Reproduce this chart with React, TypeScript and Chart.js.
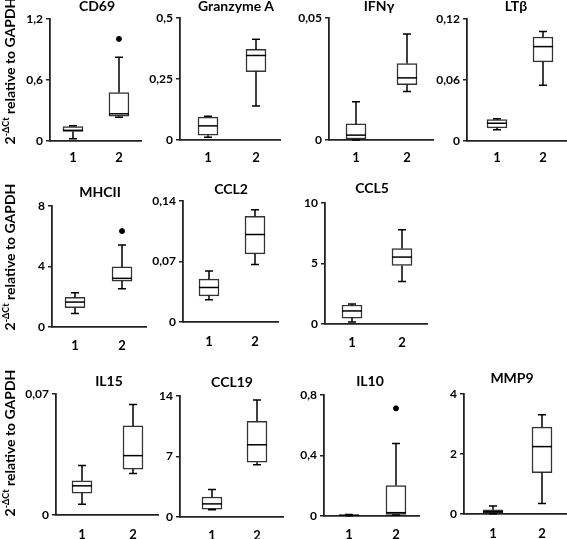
import React, { useEffect, useRef } from "react";
import { Chart, registerables } from "chart.js";
Chart.register(...registerables);

// ---------- data ----------
const panelTitles = ["CD69", "Granzyme A", "IFNγ", "LTβ", "MHCII", "CCL2", "CCL5", "IL15", "CCL19", "IL10", "MMP9"];
const groupLabels = ["1", "2"];

const yTickValues = [
  [0, 0.6, 1.2], [0, 0.25, 0.5], [0, 0.05], [0, 0.06, 0.12],
  [0, 4, 8], [0, 0.07, 0.14], [0, 5, 10],
  [0, 0.07], [0, 7, 14], [0, 0.4, 0.8], [0, 2, 4],
];
const yTickLabels = [
  ["0", "0,6", "1,2"], ["0", "0,25", "0,5"], ["0", "0,05"], ["0", "0,06", "0,12"],
  ["0", "4", "8"], ["0", "0,07", "0,14"], ["0", "5", "10"],
  ["0", "0,07"], ["0", "7", "14"], ["0", "0,4", "0,8"], ["0", "2", "4"],
];

// [low whisker, q1, median, q3, high whisker] for group 1 and group 2
const statsCD69 = [[0.023, 0.094, 0.105, 0.143, 0.15], [0.235, 0.245, 0.268, 0.477, 0.825]];
const statsGranzymeA = [[0.011, 0.02, 0.058, 0.094, 0.097], [0.14, 0.281, 0.347, 0.372, 0.414]];
const statsIFNg = [[0, 0.0004, 0.002, 0.0066, 0.0157], [0.0199, 0.0227, 0.0255, 0.0314, 0.0435]];
const statsLTb = [[0.011, 0.013, 0.0175, 0.021, 0.022], [0.055, 0.078, 0.093, 0.1025, 0.108]];
const statsMHCII = [[0.89, 1.28, 1.65, 1.96, 2.26], [2.54, 3.04, 3.22, 3.98, 5.43]];
const statsCCL2 = [[0.0257, 0.0303, 0.04, 0.0496, 0.059], [0.0666, 0.079, 0.1014, 0.1226, 0.13]];
const statsCCL5 = [[0.16, 0.49, 1.08, 1.57, 1.65], [3.51, 4.84, 5.54, 6.24, 7.81]];
const statsIL15 = [[0.0063, 0.0127, 0.0169, 0.0198, 0.0287], [0.024, 0.0266, 0.0344, 0.0516, 0.0641]];
const statsCCL19 = [[0.84, 0.91, 1.52, 2.32, 3.19], [6.05, 6.35, 8.37, 11.1, 13.57]];
const statsIL10 = [[0.001, 0.003, 0.005, 0.008, 0.01], [0.007, 0.011, 0.022, 0.202, 0.48]];
const statsMMP9 = [[0.01, 0.044, 0.076, 0.142, 0.27], [0.35, 1.38, 2.25, 2.9, 3.31]];

const panelStats = [statsCD69, statsGranzymeA, statsIFNg, statsLTb, statsMHCII, statsCCL2, statsCCL5, statsIL15, statsCCL19, statsIL10, statsMMP9];

// outliers per group
const outliersCD69 = [[], [1.006]];
const outliersMHCII = [[], [6.35]];
const outliersIL10 = [[], [0.713]];
const panelOutliers = [outliersCD69, [[], []], [[], []], [[], []], outliersMHCII, [[], []], [[], []], [[], []], [[], []], outliersIL10, [[], []]];

// ---------- layout (page pixels) ----------
// axisX, yTop, yZero, xEnd, c1, c2, labelY, titleX, titleY
const layouts = [
  [50, 17, 141, 145, 74, 122, 158, 97, 6],
  [180, 16, 140, 280, 208, 256, 158, 236, 6],
  [329, 16, 140, 433, 356, 407, 158, 379, 6],
  [467, 17, 141, 567, 497, 543, 158, 516, 6],
  [52, 204, 327, 150, 76, 125, 346, 100, 192],
  [183, 199, 322, 278, 209, 255, 342, 231, 189],
  [325, 201, 324, 427, 352, 402, 343, 372, 188],
  [56, 392, 515, 158, 82, 133, 535, 109, 381],
  [180, 394, 517, 283, 212, 257, 536, 232, 382],
  [324, 393, 516, 423, 350, 399, 535, 370, 381],
  [464, 392, 514, 567, 493, 542, 534, 512, 378],
];
const yTitleCenters = [71, 257, 443];

const FONT = "Lato, 'Open Sans', sans-serif";
const LEFT_SPACE = 40;
const TOP_SPACE = 8;

function makeBoxPlugin(stats: number[][], labelOffsetY: number) {
  return {
    id: "boxExtras",
    afterDatasetsDraw(chart: any) {
      const { ctx, scales } = chart;
      const x = scales.x, y = scales.y;
      ctx.save();
      ctx.strokeStyle = "#000";
      ctx.lineWidth = 1.5;
      stats.forEach((s, i) => {
        const cx = Math.round(x.getPixelForValue(i + 1));
        const [lo, q1, med, q3, hi] = s.map((v) => y.getPixelForValue(v));
        ctx.beginPath();
        ctx.moveTo(cx, q3); ctx.lineTo(cx, hi);
        ctx.moveTo(cx - 4, hi); ctx.lineTo(cx + 4, hi);
        ctx.moveTo(cx, q1); ctx.lineTo(cx, lo);
        ctx.moveTo(cx - 4, lo); ctx.lineTo(cx + 4, lo);
        ctx.stroke();
        ctx.beginPath();
        ctx.moveTo(cx - 10, med); ctx.lineTo(cx + 10, med);
        ctx.stroke();
      });
      // group labels under the x axis
      ctx.fillStyle = "#000";
      ctx.font = `bold 13px ${FONT}`;
      ctx.textAlign = "center";
      ctx.textBaseline = "middle";
      groupLabels.forEach((lab, i) => {
        ctx.fillText(lab, x.getPixelForValue(i + 1), y.getPixelForValue(0) + labelOffsetY);
      });
      ctx.restore();
    },
  };
}

function Panel({ idx }: { idx: number }) {
  const ref = useRef<HTMLCanvasElement | null>(null);
  const [axisX, yTop, yZero, xEnd, c1, c2, labelY] = layouts[idx];
  const left = axisX - LEFT_SPACE;
  const top = yTop - TOP_SPACE;
  const W = xEnd + 1 - left;
  const H = labelY + 10 - top;
  const xHeight = H - (yZero - top);

  useEffect(() => {
    const unit = c2 - c1;
    const xmin = 1 - (c1 - axisX) / unit;
    const xmax = 2 + (xEnd - c2) / unit;
    const stats = panelStats[idx];
    const ticksY = yTickValues[idx];
    const outs = panelOutliers[idx];
    const outlierPoints: { x: number; y: number }[] = [];
    outs.forEach((arr, g) => arr.forEach((v) => outlierPoints.push({ x: g + 1, y: v })));

    const chart = new Chart(ref.current as HTMLCanvasElement, {
      type: "bar",
      data: {
        datasets: [
          {
            type: "bar",
            data: stats.map((s, g) => ({ x: g + 1, y: [s[1], s[3]] })) as any,
            backgroundColor: "#fff",
            borderColor: "#333",
            borderWidth: 1.5,
            borderSkipped: false,
            barThickness: 20,
          } as any,
          {
            type: "scatter",
            data: outlierPoints as any,
            backgroundColor: "#000",
            borderColor: "#000",
            pointRadius: 2.5,
            pointStyle: "circle",
          } as any,
        ],
      },
      options: {
        animation: false,
        responsive: false,
        maintainAspectRatio: false,
        layout: { padding: { top: TOP_SPACE, left: 0, right: 1, bottom: 0 } },
        plugins: { legend: { display: false }, tooltip: { enabled: false } },
        scales: {
          x: {
            type: "linear",
            offset: false,
            min: xmin,
            max: xmax,
            afterBuildTicks: (s: any) => { s.ticks = [{ value: 1 }, { value: 2 }]; },
            afterFit: (s: any) => { s.height = xHeight; },
            ticks: { display: false },
            grid: { display: false, drawTicks: false },
            border: { display: true, color: "#222", width: 1.8 },
          },
          y: {
            type: "linear",
            min: 0,
            max: ticksY[ticksY.length - 1],
            afterBuildTicks: (s: any) => { s.ticks = ticksY.map((v) => ({ value: v })); },
            afterFit: (s: any) => { s.width = LEFT_SPACE; },
            ticks: {
              callback: (_v: any, i: number) => yTickLabels[idx][i],
              color: "#000",
              font: { family: FONT, size: 12, weight: "bold" },
              padding: 3,
            },
            grid: { display: true, drawOnChartArea: false, drawTicks: true, tickLength: 4, color: "#222", lineWidth: 1.5 },
            border: { display: true, color: "#222", width: 1.8 },
          },
        },
      } as any,
      plugins: [makeBoxPlugin(stats, labelY - yZero)],
    });
    return () => chart.destroy();
  }, [idx]);

  return (
    <canvas
      ref={ref}
      width={W}
      height={H}
      style={{ position: "absolute", left, top, width: W, height: H }}
    />
  );
}

export default function App() {
  return (
    <div style={{ position: "absolute", left: 0, top: 0, width: 567, height: 539, background: "#fff", overflow: "hidden" }}>
      {layouts.map((l, i) => (
        <Panel key={i} idx={i} />
      ))}
      {layouts.map((l, i) => (
        <div
          key={"t" + i}
          style={{
            position: "absolute",
            left: l[7],
            top: l[8],
            transform: "translate(-50%, -50%)",
            whiteSpace: "nowrap",
            font: `bold 14px ${FONT}`,
            color: "#000",
            lineHeight: "16px",
          }}
        >
          {panelTitles[i]}
        </div>
      ))}
      {yTitleCenters.map((cy, i) => (
        <div
          key={"y" + i}
          style={{
            position: "absolute",
            left: 9,
            top: cy,
            transform: "translate(-50%, -50%) rotate(-90deg)",
            whiteSpace: "nowrap",
            font: `bold 14px ${FONT}`,
            color: "#000",
            lineHeight: "15px",
          }}
        >
          2<sup style={{ fontSize: 9, lineHeight: 0, verticalAlign: "super" }}>-ΔCt</sup> relative to GAPDH
        </div>
      ))}
    </div>
  );
}
